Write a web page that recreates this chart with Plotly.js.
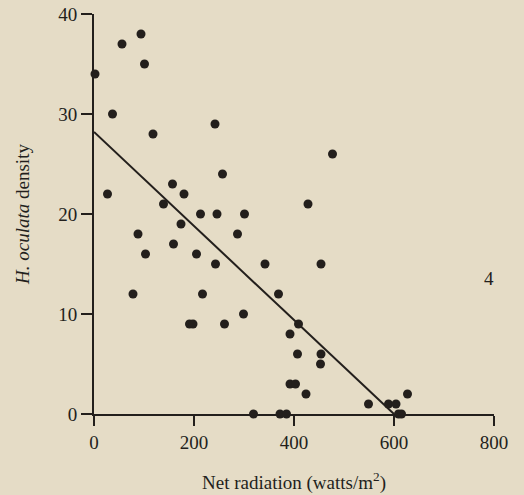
<!DOCTYPE html>
<html>
<head>
<meta charset="utf-8">
<script src="https://cdn.plot.ly/plotly-3.0.1.min.js"></script>
<style>html,body{margin:0;padding:0;background:#e5dcc6;}#chart{width:524px;height:495px;}</style>
</head>
<body>
<div id="chart"></div>
<script>
const radiation = [2,56,94,101,37,118,242,477,27,157,180,257,139,213,246,174,88,287,159,103,205,243,78,217,301,428,342,454,369,191,198,261,299,319,409,392,407,454,453,392,403,424,549,589,604,627,372,385,609,615];
const density   = [34,37,38,35,30,28,29,26,22,23,22,24,21,20,20,19,18,18,17,16,16,15,12,12,20,21,15,15,12,9,9,9,10,0,9,8,6,6,5,3,3,2,1,1,1,2,0,0,0,0];
const fitX = [0, 600];
const fitY = [28.2, 0];
const xTicks = [0, 200, 400, 600, 800];
const yTicks = [0, 10, 20, 30, 40];
const panelLabel = "4";

const ink = '#231f1c';
const font = {family: '"Liberation Serif", "DejaVu Serif", serif', color: ink};

const traces = [
  {x: fitX, y: fitY, mode: 'lines', line: {color: ink, width: 2}, hoverinfo: 'skip', cliponaxis: false},
  {x: radiation, y: density, mode: 'markers', marker: {color: ink, size: 9}, cliponaxis: false}
];

const layout = {
  width: 524, height: 495,
  paper_bgcolor: '#e5dcc6', plot_bgcolor: '#e5dcc6',
  showlegend: false,
  margin: {l: 94, r: 30, t: 14, b: 81},
  font: Object.assign({size: 19}, font),
  xaxis: {
    range: [0, 800], tickvals: xTicks, ticktext: xTicks.map(String),
    showgrid: false, zeroline: false, showline: true, linecolor: ink, linewidth: 2,
    ticks: 'outside', ticklen: 10, tickwidth: 2, tickcolor: ink,
    tickfont: Object.assign({size: 19}, font),
    title: {text: 'Net radiation (watts/m<sup>2</sup>)', font: Object.assign({size: 19}, font), standoff: 24}
  },
  yaxis: {
    range: [0, 40], tickvals: yTicks, ticktext: yTicks.map(String),
    showgrid: false, zeroline: false, showline: true, linecolor: ink, linewidth: 2,
    ticks: 'outside', ticklen: 11, tickwidth: 2, tickcolor: ink,
    tickfont: Object.assign({size: 19}, font),
    title: {text: '<i>H. oculata</i> density', font: Object.assign({size: 19}, font), standoff: 24}
  },
  annotations: [
    {x: 790, y: 13.6, xref: 'x', yref: 'y', text: panelLabel, showarrow: false, font: Object.assign({size: 19}, font)}
  ]
};

Plotly.newPlot('chart', traces, layout, {displayModeBar: false, staticPlot: true});
</script>
</body>
</html>
